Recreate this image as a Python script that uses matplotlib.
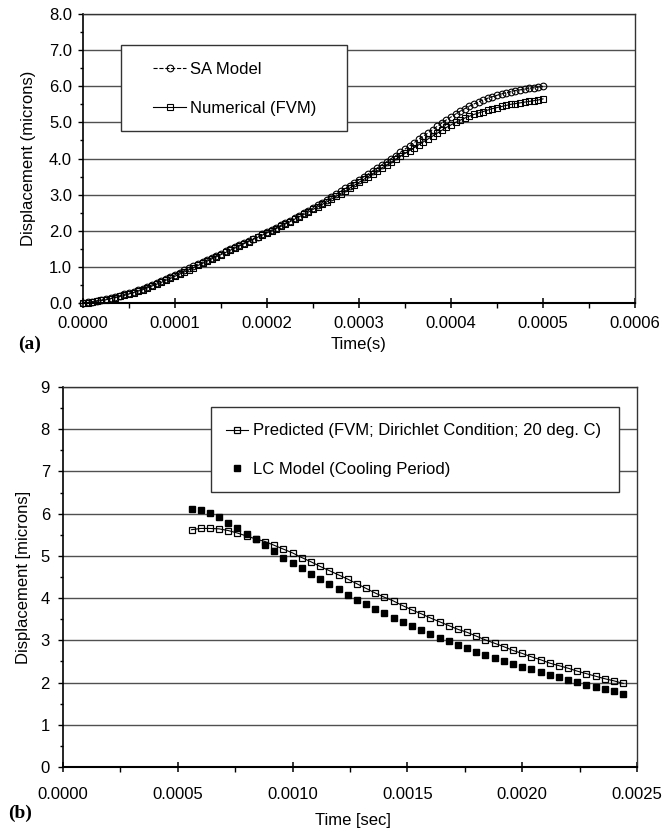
import matplotlib
matplotlib.use("Agg")
import matplotlib.pyplot as plt
from matplotlib.patches import Rectangle
from matplotlib.ticker import MultipleLocator, FormatStrFormatter

plt.rcParams.update({
    "font.family": "sans-serif",
    "font.sans-serif": ["Liberation Sans", "DejaVu Sans"],
    "font.size": 12,
})

# (a) heating period, time in microseconds
heat_time_us = [
    0, 5, 10, 15, 20, 25, 30, 35, 40, 45,
    50, 55, 60, 65, 70, 75, 80, 85, 90, 95,
    100, 105, 110, 115, 120, 125, 130, 135, 140, 145,
    150, 155, 160, 165, 170, 175, 180, 185, 190, 195,
    200, 205, 210, 215, 220, 225, 230, 235, 240, 245,
    250, 255, 260, 265, 270, 275, 280, 285, 290, 295,
    300, 305, 310, 315, 320, 325, 330, 335, 340, 345,
    350, 355, 360, 365, 370, 375, 380, 385, 390, 395,
    400, 405, 410, 415, 420, 425, 430, 435, 440, 445,
    450, 455, 460, 465, 470, 475, 480, 485, 490, 495,
    500,
]
sa_model = [
    0.00, 0.02, 0.04, 0.06, 0.08, 0.11, 0.14, 0.17, 0.20, 0.24,
    0.27, 0.31, 0.35, 0.40, 0.45, 0.50, 0.55, 0.61, 0.66, 0.72,
    0.78, 0.84, 0.90, 0.96, 1.02, 1.08, 1.13, 1.19, 1.25, 1.31,
    1.37, 1.43, 1.49, 1.55, 1.60, 1.66, 1.72, 1.78, 1.84, 1.90,
    1.96, 2.02, 2.08, 2.15, 2.21, 2.28, 2.35, 2.42, 2.49, 2.56,
    2.63, 2.70, 2.78, 2.85, 2.93, 3.01, 3.09, 3.17, 3.25, 3.33,
    3.41, 3.49, 3.57, 3.66, 3.74, 3.83, 3.91, 4.00, 4.08, 4.17,
    4.26, 4.35, 4.44, 4.53, 4.62, 4.71, 4.80, 4.89, 4.98, 5.07,
    5.15, 5.23, 5.31, 5.38, 5.45, 5.51, 5.57, 5.62, 5.67, 5.71,
    5.75, 5.79, 5.82, 5.85, 5.88, 5.90, 5.92, 5.94, 5.96, 5.98,
    6.00,
]
fvm_heating = [
    0.00, 0.01, 0.03, 0.05, 0.07, 0.09, 0.12, 0.15, 0.18, 0.21,
    0.25, 0.29, 0.33, 0.37, 0.42, 0.47, 0.52, 0.57, 0.63, 0.68,
    0.74, 0.80, 0.86, 0.92, 0.98, 1.04, 1.10, 1.16, 1.22, 1.28,
    1.34, 1.40, 1.46, 1.52, 1.58, 1.64, 1.70, 1.76, 1.82, 1.88,
    1.94, 2.00, 2.06, 2.12, 2.19, 2.25, 2.32, 2.39, 2.45, 2.52,
    2.59, 2.66, 2.73, 2.80, 2.88, 2.95, 3.03, 3.10, 3.18, 3.26,
    3.34, 3.42, 3.50, 3.58, 3.66, 3.74, 3.82, 3.90, 3.98, 4.06,
    4.14, 4.22, 4.30, 4.38, 4.46, 4.54, 4.62, 4.70, 4.78, 4.86,
    4.93, 5.00, 5.06, 5.12, 5.17, 5.22, 5.26, 5.30, 5.34, 5.38,
    5.41, 5.44, 5.47, 5.50, 5.52, 5.54, 5.56, 5.58, 5.60, 5.62,
    5.65,
]

# (b) cooling period, time in units of 10 microseconds
cool_time_10us = [
    56, 60, 64, 68, 72, 76, 80, 84, 88, 92,
    96, 100, 104, 108, 112, 116, 120, 124, 128, 132,
    136, 140, 144, 148, 152, 156, 160, 164, 168, 172,
    176, 180, 184, 188, 192, 196, 200, 204, 208, 212,
    216, 220, 224, 228, 232, 236, 240, 244,
]
fvm_cooling = [
    5.62, 5.65, 5.65, 5.64, 5.60, 5.54, 5.47, 5.40, 5.34, 5.25,
    5.16, 5.07, 4.96, 4.86, 4.75, 4.65, 4.55, 4.45, 4.34, 4.23,
    4.12, 4.02, 3.93, 3.82, 3.72, 3.63, 3.53, 3.44, 3.35, 3.26,
    3.19, 3.10, 3.01, 2.93, 2.85, 2.76, 2.69, 2.61, 2.54, 2.46,
    2.40, 2.34, 2.27, 2.21, 2.15, 2.09, 2.04, 1.98,
]
lc_model = [
    6.10, 6.08, 6.01, 5.91, 5.79, 5.67, 5.53, 5.39, 5.25, 5.11,
    4.96, 4.83, 4.71, 4.57, 4.45, 4.33, 4.21, 4.08, 3.96, 3.86,
    3.74, 3.64, 3.54, 3.44, 3.34, 3.25, 3.15, 3.06, 2.99, 2.89,
    2.81, 2.73, 2.65, 2.58, 2.50, 2.44, 2.38, 2.31, 2.25, 2.19,
    2.13, 2.06, 2.01, 1.95, 1.90, 1.85, 1.79, 1.73,
]

t_heat = [t * 1e-6 for t in heat_time_us]
t_cool = [t * 1e-5 for t in cool_time_10us]

W, H = 665, 830
fig = plt.figure(figsize=(W / 100, H / 100), dpi=100)
ax1 = fig.add_axes([83 / W, 1 - 303 / H, 552 / W, 289 / H])
ax2 = fig.add_axes([63 / W, 1 - 767 / H, 574 / W, 380 / H])


def style_axes(ax, xpad, ypad):
    ax.grid(axis="y", which="major", color="#505050", lw=1.0)
    ax.set_axisbelow(True)
    ax.tick_params(axis="x", which="major", direction="inout", length=7.2,
                   width=1.1, pad=xpad, labelsize=12)
    ax.tick_params(axis="x", which="minor", direction="out", length=3.6,
                   width=1.0)
    ax.tick_params(axis="y", which="major", direction="out", length=3.6,
                   width=1.0, pad=ypad, labelsize=12)
    ax.tick_params(axis="y", which="minor", direction="out", length=2.2,
                   width=1.0)
    ax.spines["bottom"].set_linewidth(1.5)
    ax.spines["left"].set_linewidth(1.2)
    for s in ("top", "right"):
        ax.spines[s].set_linewidth(1.0)
        ax.spines[s].set_color("#333333")


# ---- (a) heating ----
sa_line, = ax1.plot(t_heat, sa_model, ls="--", lw=0.8, color="black",
                    marker="o", ms=4.8, mfc="none", mec="black", mew=0.8,
                    clip_on=False, zorder=3, label="SA Model")
fvm_line, = ax1.plot(t_heat, fvm_heating, ls="-", lw=0.8, color="black",
                     marker="s", ms=4.3, mfc="none", mec="black", mew=0.8,
                     clip_on=False, zorder=3, label="Numerical (FVM)")
ax1.set_xlim(0, 0.0006)
ax1.set_ylim(0, 8)
ax1.xaxis.set_major_locator(MultipleLocator(0.0001))
ax1.xaxis.set_minor_locator(MultipleLocator(0.00005))
ax1.xaxis.set_major_formatter(FormatStrFormatter("%.4f"))
ax1.yaxis.set_major_locator(MultipleLocator(1.0))
ax1.yaxis.set_minor_locator(MultipleLocator(0.5))
ax1.yaxis.set_major_formatter(FormatStrFormatter("%.1f"))
style_axes(ax1, xpad=6.0, ypad=4.3)

ax1.add_patch(Rectangle((0.0688, 0.5952), 0.4095, 0.2975,
                        transform=ax1.transAxes, facecolor="white",
                        edgecolor="#333333", lw=1.0, zorder=4))
ax1.legend(handles=[sa_line, fvm_line], loc="center left",
           bbox_to_anchor=(0.1268, 0.7405), frameon=False, fontsize=12,
           handlelength=2.0, handletextpad=0.25, labelspacing=1.4,
           borderpad=0, borderaxespad=0).set_zorder(5)

fig.text(29 / W, 1 - 158 / H, "Displacement (microns)", rotation=90,
         ha="center", va="center", fontsize=12)
fig.text(359 / W, 1 - 344 / H, "Time(s)", ha="center", va="center",
         fontsize=12)
fig.text(30 / W, 1 - 344.5 / H, "(a)", ha="center", va="center",
         fontsize=14, fontweight="bold", family="Liberation Serif")

# ---- (b) cooling ----
pred_line, = ax2.plot(t_cool, fvm_cooling, ls="-", lw=0.8, color="black",
                      marker="s", ms=4.8, mfc="none", mec="black", mew=0.9,
                      clip_on=False, zorder=3,
                      label="Predicted (FVM; Dirichlet Condition; 20 deg. C)")
lc_line, = ax2.plot(t_cool, lc_model, ls="none", marker="s", ms=4.8,
                    mfc="black", mec="black", clip_on=False, zorder=3,
                    label="LC Model (Cooling Period)")
ax2.set_xlim(0, 0.0025)
ax2.set_ylim(0, 9)
ax2.xaxis.set_major_locator(MultipleLocator(0.0005))
ax2.xaxis.set_minor_locator(MultipleLocator(0.00025))
ax2.xaxis.set_major_formatter(FormatStrFormatter("%.4f"))
ax2.yaxis.set_major_locator(MultipleLocator(1))
ax2.yaxis.set_minor_locator(MultipleLocator(0.5))
ax2.yaxis.set_major_formatter(FormatStrFormatter("%d"))
style_axes(ax2, xpad=10.5, ypad=5.8)

ax2.add_patch(Rectangle((0.2578, 0.7237), 0.7108, 0.2237,
                        transform=ax2.transAxes, facecolor="white",
                        edgecolor="#333333", lw=1.0, zorder=4))
ax2.legend(handles=[pred_line, lc_line], loc="center left",
           bbox_to_anchor=(0.284, 0.834), frameon=False, fontsize=12,
           handlelength=1.32, handletextpad=0.3, labelspacing=1.4,
           borderpad=0, borderaxespad=0).set_zorder(5)

fig.text(23.5 / W, 1 - 577 / H, "Displacement [microns]", rotation=90,
         ha="center", va="center", fontsize=12)
fig.text(353 / W, 1 - 820 / H, "Time [sec]", ha="center", va="center",
         fontsize=12)
fig.text(20 / W, 1 - 813 / H, "(b)", ha="center", va="center",
         fontsize=14, fontweight="bold", family="Liberation Serif")

fig.savefig("out.png", dpi=100)
